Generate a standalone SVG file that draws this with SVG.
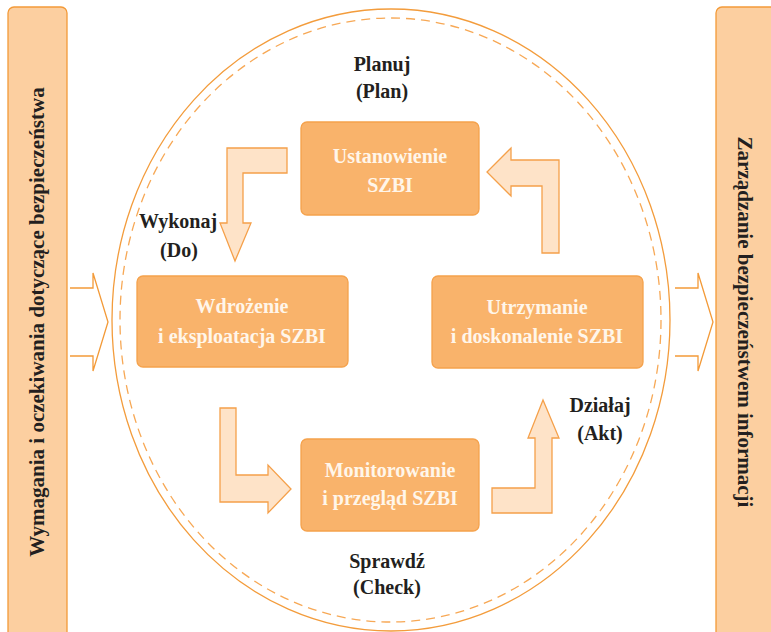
<svg xmlns="http://www.w3.org/2000/svg" width="771" height="632" viewBox="0 0 771 632">
<style>
.panel{fill:#fccfa0;stroke:#f39a38;stroke-width:1.3}
.box{fill:#f9b36b;stroke:#f5a24c;stroke-width:1.3}
.btxt{font-family:"Liberation Serif",serif;font-weight:bold;font-size:20px;fill:#fff6ea;text-anchor:middle}
.lbl{font-family:"Liberation Serif",serif;font-weight:bold;font-size:20px;fill:#231f20;text-anchor:middle}
.vtxt{font-family:"Liberation Serif",serif;font-weight:bold;font-size:21px;fill:#231f20;text-anchor:middle}
.arr{fill:#fee3c8;stroke:#f5a04a;stroke-width:1.3;stroke-linejoin:miter}
.open{fill:none;stroke:#f39a38;stroke-width:1.3}
.ell{fill:none;stroke:#f39c3c;stroke-width:1.3}
.ellD{fill:none;stroke:#f7a855;stroke-width:1.3;stroke-dasharray:9 6}
</style>
<rect width="771" height="632" fill="#ffffff"/>
<g id="panel-left">
<rect class="panel" x="8" y="7" width="59" height="640" rx="6"/>
<text class="vtxt" transform="translate(44,322) rotate(-90)">Wymagania i oczekiwania dotyczące bezpieczeństwa</text>
</g>
<g id="panel-right">
<rect class="panel" x="716" y="7" width="70" height="640" rx="6"/>
<text class="vtxt" transform="translate(738,322) rotate(90)">Zarządzanie bezpieczeństwem informacji</text>
</g>
<g id="cycle">
<ellipse class="ell" cx="391" cy="320" rx="279" ry="311"/>
<ellipse class="ellD" cx="390.5" cy="320" rx="270.5" ry="302"/>
</g>
<g id="labels">
<text class="lbl" x="382" y="71">Planuj</text>
<text class="lbl" x="382" y="98">(Plan)</text>
<text class="lbl" x="178" y="228">Wykonaj</text>
<text class="lbl" x="179" y="257">(Do)</text>
<text class="lbl" x="600" y="412">Działaj</text>
<text class="lbl" x="600" y="440">(Akt)</text>
<text class="lbl" x="387" y="568">Sprawdź</text>
<text class="lbl" x="387" y="594">(Check)</text>
</g>
<g id="node-ustanowienie">
<rect class="box" x="301" y="122" width="178" height="93" rx="6"/>
<text class="btxt" x="390" y="163">Ustanowienie</text>
<text class="btxt" x="390" y="192">SZBI</text>
</g>
<g id="node-wdrozenie">
<rect class="box" x="137" y="276" width="211" height="91" rx="6"/>
<text class="btxt" x="242" y="313">Wdrożenie</text>
<text class="btxt" x="242" y="343">i eksploatacja SZBI</text>
</g>
<g id="node-utrzymanie">
<rect class="box" x="432" y="276" width="211" height="92" rx="6"/>
<text class="btxt" x="537" y="314">Utrzymanie</text>
<text class="btxt" x="537" y="343">i doskonalenie SZBI</text>
</g>
<g id="node-monitorowanie">
<rect class="box" x="301" y="439" width="178" height="92" rx="6"/>
<text class="btxt" x="390" y="477">Monitorowanie</text>
<text class="btxt" x="390" y="505">i przegląd SZBI</text>
</g>
<g id="connectors">
<polyline class="open" points="70,288 93,288 93,273 108,322 93,371 93,356 70,356"/>
<polyline class="open" points="675,288 698,288 698,273 713,322 698,371 698,356 675,356"/>
<polygon class="arr" points="287,148 287,173 243,173 243,223 251,223 235,261 220,223 227,223 227,148"/>
<polygon class="arr" points="220,408 236,408 236,475 268,475 268,465 291,489 268,513 268,502 220,502"/>
<polygon class="arr" points="492,488 535,488 535,438 528,438 543,400 559,438 552,438 552,513 492,513"/>
<polygon class="arr" points="542,253 559,253 559,160 511,160 511,148 487,172 511,196 511,186 542,186"/>
</g>
</svg>
